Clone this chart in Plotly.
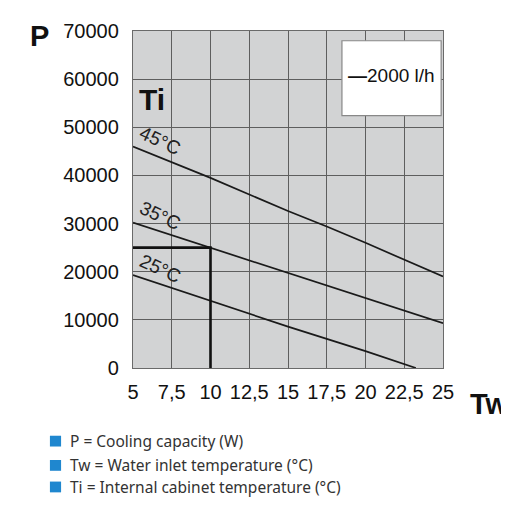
import plotly.graph_objects as go

# Water inlet temperature (°C) and cooling capacity (W) per internal temperature
tw_45 = [5, 10, 15, 17.5, 20, 25]
p_45 = [46000, 39500, 32600, 29400, 26000, 19000]
tw_35 = [5, 10, 15, 20, 25]
p_35 = [30200, 25000, 19800, 14600, 9300]
tw_25 = [5, 10, 15, 20, 23.25]
p_25 = [19300, 14000, 8600, 3500, 0]

# operating point example (Tw = 10 °C -> 25000 W)
ref_tw = [5, 10, 10]
ref_p = [25000, 25000, 0]

x_ticks = [5, 7.5, 10, 12.5, 15, 17.5, 20, 22.5, 25]
x_labels = ["5", "7,5", "10", "12,5", "15", "17,5", "20", "22,5", "25"]
y_ticks = [0, 10000, 20000, 30000, 40000, 50000, 60000, 70000]
y_labels = ["0", "10000", "20000", "30000", "40000", "50000", "60000", "70000"]
curve_labels = ["45°C", "35°C", "25°C"]
curve_label_tw = [6.74, 6.74, 6.74]
curve_label_p = [47300, 31700, 20600]
notes = ["P = Cooling capacity (W)", "Tw = Water inlet temperature (°C)",
         "Ti = Internal cabinet temperature (°C)"]

line_col = "#1a1a1a"
fig = go.Figure()
for xs, ys in [(tw_45, p_45), (tw_35, p_35), (tw_25, p_25)]:
    fig.add_trace(go.Scatter(x=xs, y=ys, mode="lines", showlegend=False,
                             line=dict(color=line_col, width=1.7)))
fig.add_trace(go.Scatter(x=ref_tw, y=ref_p, mode="lines", showlegend=False,
                         line=dict(color="#111111", width=2.6)))

# curve labels, tilted along the lines
for lab, xv, yv in zip(curve_labels, curve_label_tw, curve_label_p):
    fig.add_annotation(x=xv, y=yv, text=lab, showarrow=False, xanchor="center",
                       yanchor="middle", textangle=25, font=dict(size=19, color="#222"))

fig.add_annotation(x=5.25, y=55800, text="<b>Ti</b>", showarrow=False, xanchor="left",
                   yanchor="middle", font=dict(size=30, color="#111"))
fig.add_annotation(x=-0.303, y=0.985, xref="paper", yref="paper", text="<b>P</b>",
                   showarrow=False, xanchor="center", yanchor="middle",
                   font=dict(size=29, color="#111"))
fig.add_annotation(x=1.08, y=-0.107, xref="paper", yref="paper", text="<b>Tw</b>",
                   showarrow=False, xanchor="left", yanchor="middle",
                   font=dict(size=29, color="#111"))

# flow rate box
fig.add_shape(type="rect", xref="paper", yref="paper", x0=0.674, x1=0.994, y0=0.749, y1=0.971,
              fillcolor="white", line=dict(color="#888", width=1.2), layer="above")
fig.add_annotation(x=0.834, y=0.868, xref="paper", yref="paper", text="<b>—</b>2000 l/h",
                   showarrow=False, xanchor="center", yanchor="middle",
                   font=dict(size=19, color="#111"))

# notes below the chart
note_y = [-0.217, -0.289, -0.353]
for txt, ny in zip(notes, note_y):
    fig.add_shape(type="rect", xref="paper", yref="paper", x0=-0.268, x1=-0.232,
                  y0=ny - 0.016, y1=ny + 0.016, fillcolor="#1f87cf", line=dict(width=0))
    fig.add_annotation(x=-0.21, y=ny, xref="paper", yref="paper", text=txt, showarrow=False,
                       xanchor="left", yanchor="middle",
                       font=dict(family="Noto Sans", size=15.5, color="#333"))

axis_style = dict(showgrid=True, gridcolor="#5e5e5e", gridwidth=1.3, zeroline=False,
                  showline=True, mirror=True, linecolor="#6a6a6a", linewidth=1.3,
                  tickfont=dict(family="Liberation Sans", size=20, color="#111"))
fig.update_xaxes(range=[5, 25], tickvals=x_ticks, ticktext=x_labels,
                 ticklabelstandoff=6, **axis_style)
fig.update_yaxes(range=[0, 70000], tickvals=y_ticks, ticktext=y_labels,
                 ticklabelstandoff=9, **axis_style)

# page body adds 8px margin, so figure is 501x499 with the plot shifted accordingly
fig.update_layout(width=501, height=499, margin=dict(l=125, r=66, t=14, b=139),
                  plot_bgcolor="#d2d3d4", paper_bgcolor="white",
                  font=dict(family="Liberation Sans"))
fig.write_html("out.html")
